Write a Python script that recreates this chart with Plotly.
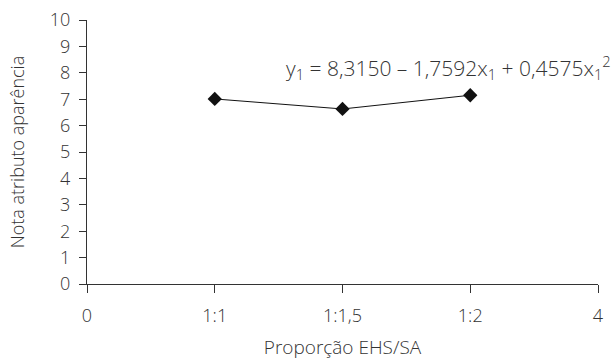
import plotly.graph_objects as go

x_vals = [1, 2, 3]
y_vals = [7.01, 6.63, 7.15]
x_tickvals = [0, 1, 2, 3, 4]
x_ticktext = ["0", "1:1", "1:1,5", "1:2", "4"]
y_tickvals = list(range(0, 11))

font_family = "Open Sans, Liberation Sans, Arial, sans-serif"
txt_color = "#333333"
tick_font = dict(family=font_family, size=18, color=txt_color, weight=300)

fig = go.Figure()
fig.add_trace(go.Scatter(
    x=x_vals, y=y_vals, mode="lines+markers",
    line=dict(color="#111111", width=1),
    marker=dict(symbol="diamond", size=11, color="#111111"),
    showlegend=False, cliponaxis=False,
))

fig.add_annotation(
    x=1.0, xref="paper", y=8.2, yref="y", xanchor="right", yanchor="middle",
    xshift=15,
    text="y<sub>1</sub> = 8,3150 – 1,7592x<sub>1</sub> + 0,4575x<sub>1</sub><sup>2</sup>",
    showarrow=False, font=dict(family=font_family, size=21, color=txt_color, weight=300),
)

fig.update_layout(
    width=616, height=360,
    margin=dict(l=87, r=18, t=20, b=76),
    paper_bgcolor="white", plot_bgcolor="white",
    font=dict(family=font_family, size=18, color=txt_color),
)
fig.update_xaxes(
    range=[0, 4], tickvals=x_tickvals, ticktext=x_ticktext,
    showline=True, linecolor="#333333", linewidth=1,
    ticks="outside", ticklen=8, tickcolor="#333333",
    showgrid=False, zeroline=False, tickfont=tick_font,
    ticklabelstandoff=7, automargin=False,
    title=dict(text="Proporção EHS/SA", standoff=16,
               font=dict(family=font_family, size=19, color=txt_color, weight=300)),
)
fig.update_yaxes(
    range=[0, 10], tickvals=y_tickvals,
    showline=True, linecolor="#333333", linewidth=1,
    ticks="outside", ticklen=7, tickcolor="#333333",
    showgrid=False, zeroline=False, tickfont=tick_font,
    ticklabelstandoff=5, automargin=False,
    title=dict(text="Nota atributo aparência", standoff=20,
               font=dict(family=font_family, size=18, color=txt_color, weight=300)),
)

fig.write_html("out.html", config={"displayModeBar": False},
               post_script="document.body.style.margin='0';")
